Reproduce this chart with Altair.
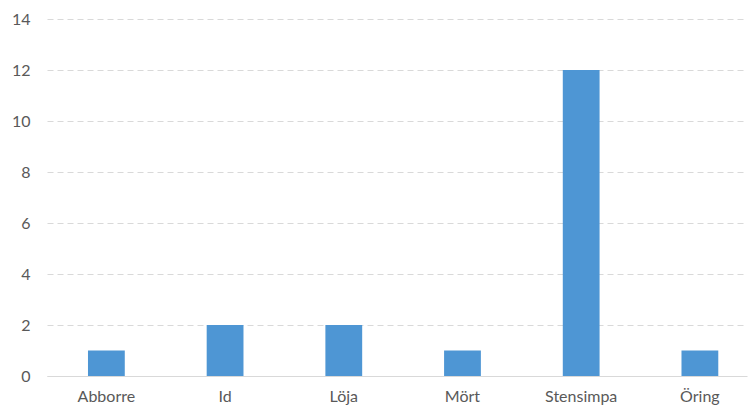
import altair as alt
import pandas as pd

categories = ["Abborre", "Id", "Löja", "Mört", "Stensimpa", "Öring"]
values = [1, 2, 2, 1, 12, 1]

df = pd.DataFrame({"art": categories, "antal": values})

FONT = "Lato"
TEXT = "#595959"
GRID = "#D9D9D9"

chart = (
    alt.Chart(df)
    .mark_bar(color="#4E96D4")
    .encode(
        x=alt.X(
            "art:N",
            sort=categories,
            title=None,
            scale=alt.Scale(paddingInner=0.69, paddingOuter=0.2936, align=0.588),
            axis=alt.Axis(
                labelAngle=0,
                ticks=False,
                domain=True,
                domainColor=GRID,
                domainWidth=1,
                labelFont=FONT,
                labelFontSize=16,
                labelColor=TEXT,
                labelPadding=12,
                grid=False,
            ),
        ),
        y=alt.Y(
            "antal:Q",
            title=None,
            scale=alt.Scale(domain=[0, 14], nice=False),
            axis=alt.Axis(
                values=[0, 2, 4, 6, 8, 10, 12, 14],
                ticks=False,
                domain=False,
                labelFont=FONT,
                labelFontSize=16,
                labelColor=TEXT,
                labelPadding=17,
                grid=True,
                gridColor=GRID,
                gridDash=[6, 4],
                gridWidth=1,
            ),
        ),
    )
    .properties(
        width=700,
        height=357,
        background="white",
        autosize=alt.AutoSizeParams(type="none"),
        padding={"left": 47, "top": 19, "right": 1, "bottom": 31},
    )
    .configure_view(stroke=None)
)

chart.save("out.html", embed_options={"renderer": "svg", "actions": False})
